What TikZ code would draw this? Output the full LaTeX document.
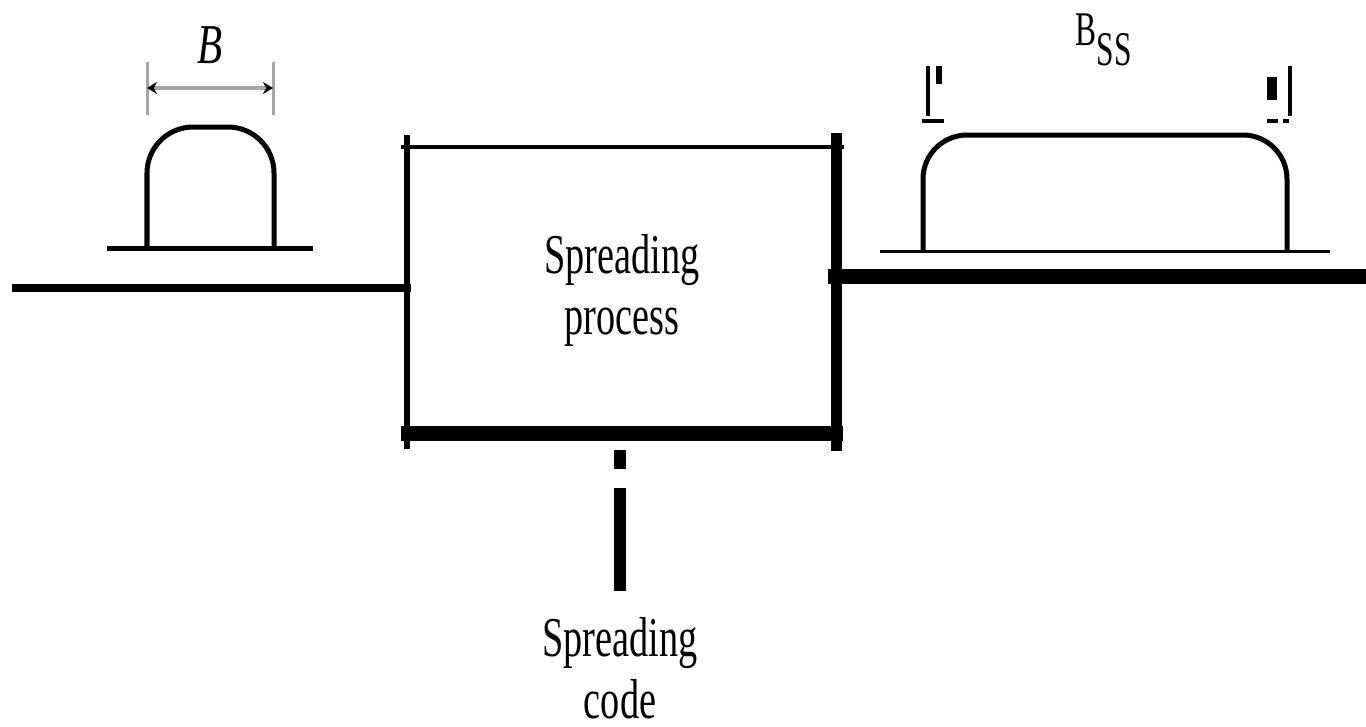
\documentclass[tikz,border=0pt]{standalone}
\usepackage{fontspec}
\setmainfont{Liberation Serif}
\usepackage{graphicx}
\usetikzlibrary{calc, positioning, arrows.meta}

% squeeze text sideways, the labels are set narrow
\newcommand{\squeeze}[2][0.68]{\scalebox{#1}[1]{#2}}

\begin{document}
\begin{tikzpicture}[
        x=0.01cm, y=-0.01cm,
        box_spread/.style={rectangle, inner sep=0pt, minimum width=4.275cm, minimum height=2.85cm, align=center, font=\fontsize{16}{17.6}\selectfont},
        label_text/.style={inner sep=0pt, align=center, font=\fontsize{16}{17.6}\selectfont},
        edge_thin/.style={line width=0.04cm, line cap=rect},
        edge_mid/.style={line width=0.06cm, line cap=rect},
        edge_thick/.style={line width=0.11cm, line cap=rect},
        edge_heavy/.style={line width=0.15cm, line cap=rect},
        line_in/.style={line width=0.08cm, line cap=rect},
        line_out/.style={line width=0.15cm},
        line_code/.style={line width=0.12cm, dash pattern=on 0.19cm off 0.19cm on 2cm},
        pulse_line/.style={line width=0.05cm, rounded corners=0.45cm},
        base_line/.style={line width=0.05cm},
        dim_tick/.style={line width=0.03cm, gray!70},
        dim_line/.style={{Stealth[black, length=0.1cm, width=0.12cm]}-{Stealth[black, length=0.1cm, width=0.12cm]}, line width=0.04cm, gray!70}
    ]
    \useasboundingbox (0,0) rectangle (1366,726);

    % ==================== Spreading block ====================
    \node[box_spread] (spread) at (621.75,290.5) {\squeeze{Spreading}\\\squeeze{process}};

    % sides of the block, each with its own weight
    \draw[edge_thin] ([xshift=-0.04cm]spread.north west) -- ([xshift=0.06cm]spread.north east);
    \draw[edge_mid] ([yshift=0.09cm]spread.north west) -- ([yshift=-0.12cm]spread.south west);
    \draw[edge_thick] ([yshift=0.09cm]spread.north east) -- ([yshift=-0.12cm]spread.south east);
    \draw[edge_heavy] ([xshift=0.01cm]spread.south west) -- ([xshift=-0.01cm]spread.south east);

    % Input / output
    \coordinate (in) at (16,288);
    \coordinate (out) at (1366,276.5);
    \draw[line_in] (in) -- (in -| spread.west);
    \draw[line_out] ([xshift=-0.08cm]spread.east |- out) -- (out);

    % Spreading code
    \node[label_text] (code) at (620,668) {\squeeze{Spreading}\\\squeeze{code}};
    \draw[line_code, shorten <=0.16cm, shorten >=0.26cm] (spread.south -| code.north) -- (code.north);

    % ==================== Narrow band (left) ====================
    \draw[base_line] (107,248) -- (313,248);
    \draw[pulse_line, rounded corners=0.46cm] (147,248) -- (147,127) -- (274,127) -- (274,248);

    \coordinate (bl) at (147,88);
    \coordinate (br) at (273,88);
    \draw[dim_tick] ([yshift=0.26cm]bl) -- ([yshift=-0.27cm]bl);
    \draw[dim_tick] ([yshift=0.26cm]br) -- ([yshift=-0.27cm]br);
    \draw[dim_line] (bl) -- (br);
    \node[label_text] (bandB) at (210,45) {\squeeze[0.73]{\itshape B}};

    % ==================== Spread band (right) ====================
    \draw[line width=0.03cm] (880,251) -- (1330,251);
    \draw[pulse_line, rounded corners=0.44cm] (923,251) -- (923,135) -- (1287,135) -- (1287,251);

    \node[label_text, anchor=base west, font=\fontsize{13.75}{15}\selectfont] (bandBss) at (1075,45) {\squeeze[0.65]{B\raisebox{-0.2cm}{SS}}};

    % marks at the band edges
    \fill (926,66) rectangle (930,116);
    \fill (936,66) rectangle (942,84);
    \fill (922,119) rectangle (944,123);
    \fill (1288,66) rectangle (1292,116);
    \fill (1267,77) rectangle (1277,100);
    \fill (1267,119) rectangle (1278,123);
    \fill (1283,119) rectangle (1289,123);

\end{tikzpicture}
\end{document}
